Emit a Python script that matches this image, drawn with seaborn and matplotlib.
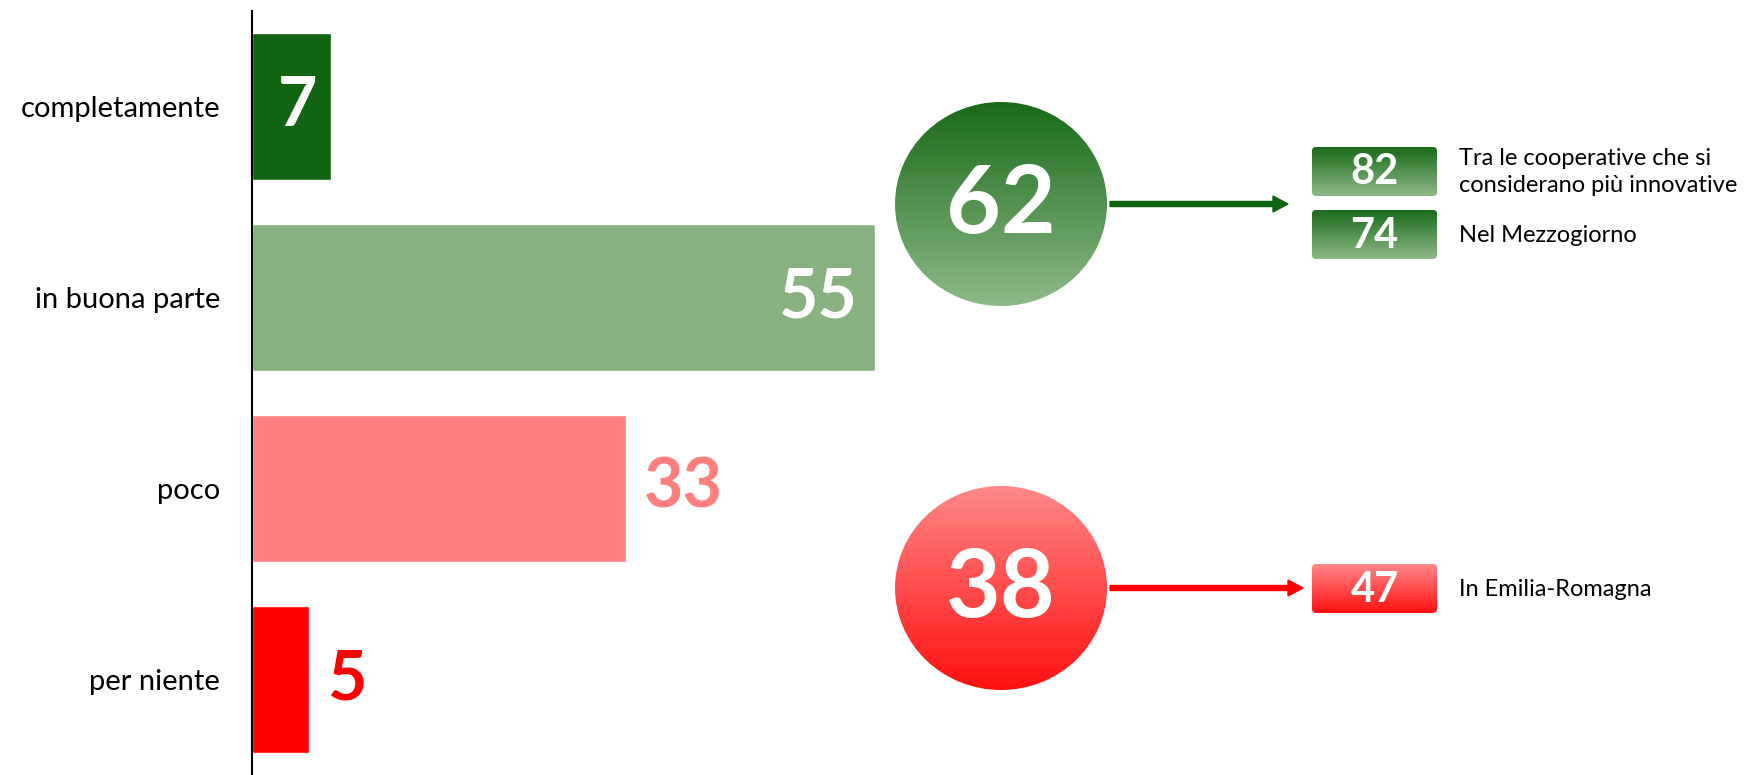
import numpy as np
import matplotlib
matplotlib.use("Agg")
import matplotlib.pyplot as plt
import seaborn as sns
import pandas as pd
from matplotlib.patches import Ellipse, FancyBboxPatch
from matplotlib.colors import to_rgb

# data
categories = ["completamente", "in buona parte", "poco", "per niente"]
values = [7, 55, 33, 5]
bar_colors = ["#116411", "#88B180", "#FF7F7F", "#FF0000"]

summary_values = [62, 38]
detail_values = [[82, 74], [47]]
detail_labels = [["Tra le cooperative che si\nconsiderano più innovative", "Nel Mezzogiorno"],
                 ["In Emilia-Romagna"]]

sns.set_theme(style="white")
plt.rcParams["font.family"] = ["Lato", "DejaVu Sans"]

df = pd.DataFrame({"cat": categories, "val": values})

W, H = 1755, 775
fig = plt.figure(figsize=(W / 100, H / 100), dpi=100)

# bars
ax = fig.add_axes([252 / W, 0, 1 - 252 / W, 764 / H])
sns.barplot(data=df, y="cat", x="val", hue="cat", palette=bar_colors,
            orient="h", width=0.77, legend=False, ax=ax, saturation=1)
ax.set_xlim(0, (W - 252) / 11.33)
ax.set_ylim(3.5, -0.5)
ax.set_xlabel("")
ax.set_ylabel("")
ax.set_xticks([])
for s in ["top", "right", "bottom"]:
    ax.spines[s].set_visible(False)
ax.spines["left"].set_color("black")
ax.spines["left"].set_linewidth(1.5)
ax.tick_params(axis="y", length=0, pad=23, labelsize=21, labelcolor="black")

# value labels
for i, v in enumerate(values):
    if i == 0:
        ax.text(v / 2 + 0.5, i, str(v), ha="center", va="center", color="white",
                fontsize=49, fontweight="bold")
    elif i == 1:
        ax.text(v - 1.6, i, str(v), ha="right", va="center", color="white",
                fontsize=49, fontweight="bold")
    else:
        ax.text(v + 1.6, i, str(v), ha="left", va="center", color=bar_colors[i],
                fontsize=49, fontweight="bold")

# callouts in pixel coordinates
ov = fig.add_axes([0, 0, 1, 1])
ov.set_xlim(0, W)
ov.set_ylim(H, 0)
ov.set_axis_off()


def gradient_fill(patch, x0, x1, y0, y1, top, bottom):
    ov.add_patch(patch)
    t = np.linspace(0, 1, 256)[:, None]
    c0, c1 = np.array(to_rgb(top)), np.array(to_rgb(bottom))
    img = (c0 * (1 - t) + c1 * t)[:, None, :]
    im = ov.imshow(img, extent=(x0, x1, y1, y0), aspect="auto", origin="upper",
                   interpolation="bilinear", zorder=2)
    im.set_clip_path(patch)


grads = [("#1A6A1A", "#8CBA86"), ("#FF8888", "#FF1010")]
arrow_colors = ["#106410", "#FF0000"]
centers_y = [204, 588]
box_ys = [[147, 210], [564]]
cx, rx, ry = 1001, 106, 102

for k in range(2):
    cy = centers_y[k]
    top, bot = grads[k]
    e = Ellipse((cx, cy), 2 * rx, 2 * ry, facecolor="none", edgecolor="none")
    gradient_fill(e, cx - rx, cx + rx, cy - ry, cy + ry, top, bot)
    ov.text(cx, cy + 2, str(summary_values[k]), ha="center", va="center",
            color="white", fontsize=68, fontweight="bold", zorder=3)
    end = 1288 if k == 0 else 1303
    ov.arrow(1110, cy, end - 1110, 0, width=5, head_width=16, head_length=15,
             length_includes_head=True, color=arrow_colors[k], zorder=3)
    for j, v in enumerate(detail_values[k]):
        by = box_ys[k][j]
        b = FancyBboxPatch((1312, by), 125, 49, boxstyle="round,pad=0,rounding_size=4",
                           facecolor="none", edgecolor="none")
        gradient_fill(b, 1312, 1437, by, by + 49, top, bot)
        ov.text(1374.5, by + 25.5, str(v), ha="center", va="center", color="white",
                fontsize=30, fontweight="bold", zorder=3)
        ov.text(1459, by + 25, detail_labels[k][j], ha="left", va="center",
                color="black", fontsize=17, linespacing=1.3, zorder=3)

fig.savefig("out.png", dpi=100, facecolor="white")
